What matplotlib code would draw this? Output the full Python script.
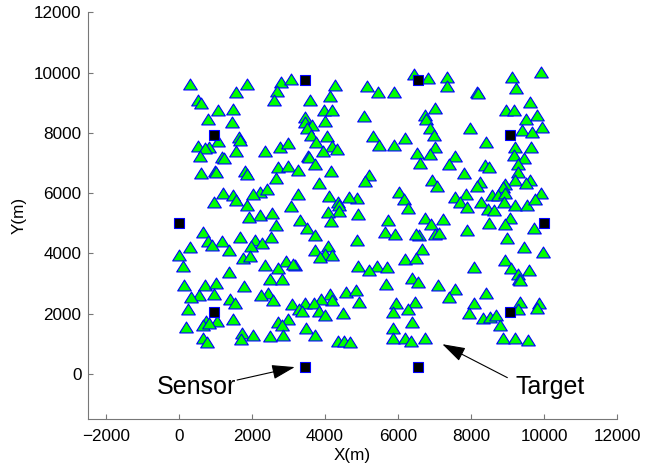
import matplotlib
matplotlib.use('Agg')
from matplotlib import pyplot as plt
from matplotlib.path import Path

# target positions (m)
target_x = [9900, 6430, 6810, 7350, 7350, 9110, 9240, 310, 1870, 2790,
            3070, 2690, 4270, 5150, 5440, 5900, 1550, 8150, 8180, 510,
            600, 2600, 3580, 4130, 9610, 1060, 1470, 3960, 4180, 7000,
            8960, 9160, 5060, 3440, 6740, 6760, 9510, 9810, 790, 1440,
            3460, 3650, 3510, 3990, 6880, 7980, 9940, 9400, 9660, 6990,
            3620, 4040, 1630, 1660, 5310, 1070, 6200, 8400, 3750, 5470,
            5900, 510, 820, 720, 2360, 2760, 2980, 4200, 4330, 9190,
            9640, 7020, 1550, 3940, 6530, 6870, 570, 1180, 1240, 9160,
            3540, 3570, 7550, 9450, 3720, 6600, 7380, 2700, 2980, 3270,
            8390, 8480, 9280, 1820, 1850, 980, 1000, 610, 4170, 7800,
            9280, 5190, 5080, 9210, 6940, 7060, 2650, 3820, 9620, 9510,
            8250, 8150, 8920, 8870, 2210, 2420, 1200, 1480, 2020, 3260,
            6010, 9900, 7560, 7870, 8580, 8730, 8920, 4100, 4880, 4650,
            6170, 7690, 7880, 8260, 8890, 960, 1570, 1870, 4360, 4380,
            4390, 9210, 9530, 9740, 3070, 4070, 6270, 8450, 8630, 2210,
            2550, 4890, 1910, 4150, 9070, 6730, 7220, 5730, 6910, 3300,
            2650, 8480, 8930, 9720, 670, 3510, 5640, 5920, 7880, 2520,
            1660, 2090, 3720, 790, 1180, 6570, 7000, 7130, 6480, 4870,
            8990, 2280, 1980, 310, 4080, 900, 6650, 9440, 1370, 3720,
            4010, 4190, 3870, 9960, -10, 1750, 1930, 6190, 6490, 2920,
            3170, 3110, 110, 2360, 2700, 4900, 5420, 5690, 5210, 8090,
            8930, 9100, 9570, 1360, 9290, 9300, 9330, 2480, 2820, 6390,
            6550, 130, 1780, 5670, 7080, 7570, 720, 1000, 960, 560,
            330, 2440, 2240, 4130, 4560, 4850, 8400, 7390, 1400, 1520,
            2560, 4190, 4920, 3900, 6460, 5950, 8070, 9340, 9870, 9800,
            3090, 3460, 3290, 3380, 3700, 3830, 4010, 4480, 5870, 6260,
            9290, 240, 7950, 8330, 8520, 8670, 2980, 1470, 1050, 750,
            6390, 2710, 2820, 8780, 200, 660, 830, 5870, 3480, 1720,
            1710, 2020, 2480, 2850, 3730, 8880, 5870, 6730, 6200, 6350,
            660, 760, 4350, 4510, 4670, 9190, 9560]
target_y = [10030, 9940, 9810, 9860, 9560, 9860, 9470, 9610, 9610, 9690,
            9780, 9390, 9580, 9560, 9360, 9370, 9360, 9370, 9310, 9080,
            9000, 9080, 9080, 9230, 9030, 8760, 8790, 8750, 8760, 8810,
            8760, 8760, 8570, 8510, 8590, 8460, 8460, 8600, 8460, 8350,
            8350, 8270, 8150, 8380, 8150, 8160, 8180, 8090, 8020, 7940,
            7920, 7880, 7850, 7760, 7900, 7740, 7820, 7680, 7680, 7610,
            7610, 7550, 7520, 7490, 7390, 7520, 7650, 7550, 7460, 7520,
            7520, 7520, 7390, 7390, 7320, 7300, 7240, 7190, 7170, 7280,
            7240, 7190, 7240, 7170, 6970, 7000, 6970, 6860, 6910, 6770,
            6930, 6860, 6950, 6750, 6640, 6750, 6700, 6670, 6750, 6670,
            6710, 6600, 6390, 6450, 6440, 6230, 6490, 6330, 6440, 6340,
            6360, 6250, 6310, 6200, 6050, 6140, 6000, 5950, 5980, 5980,
            6030, 6000, 5870, 5980, 5940, 5940, 6000, 5910, 5830, 5870,
            5790, 5700, 5530, 5700, 5720, 5700, 5760, 5620, 5700, 5590,
            5420, 5620, 5620, 5790, 5570, 5390, 5500, 5480, 5450, 5290,
            5350, 5310, 5200, 5090, 5180, 5180, 5150, 5120, 4980, 5120,
            4940, 5020, 4960, 4840, 4710, 4840, 4710, 4650, 4790, 4540,
            4540, 4450, 4600, 4410, 4410, 4600, 4650, 4680, 4650, 4430,
            4520, 4340, 4240, 4210, 4240, 4270, 4160, 4210, 4100, 4120,
            3990, 3940, 3880, 4050, 3940, 3850, 3900, 3830, 3850, 3740,
            3610, 3660, 3580, 3610, 3520, 3570, 3570, 3550, 3460, 3550,
            3790, 3500, 3460, 3380, 3330, 3160, 3110, 3160, 3160, 3190,
            3050, 2940, 2920, 2970, 2940, 2830, 2940, 3030, 2670, 2630,
            2560, 2700, 2610, 2670, 2720, 2780, 2700, 2540, 2480, 2340,
            2450, 2450, 2390, 2500, 2390, 2370, 2340, 2390, 2340, 2190,
            2320, 2340, 2170, 2100, 2340, 2100, 1970, 2010, 2060, 2170,
            2140, 2140, 2010, 1860, 1900, 1950, 1820, 1810, 1760, 1760,
            1740, 1730, 1620, 1620, 1570, 1620, 1680, 1540, 1530, 1370,
            1150, 1290, 1270, 1290, 1310, 1200, 1180, 1200, 1180, 1100,
            1210, 1070, 1100, 1100, 1070, 1180, 1120]

# sensor positions (m)
sensor_x = [10000, 9050, 6550, 3450, 950, 0, 950, 3450, 6550, 9050]
sensor_y = [5000, 7940, 9760, 9760, 7940, 5000, 2060, 240, 240, 2060]

plt.rcParams['font.family'] = ['Liberation Sans', 'DejaVu Sans']

fig = plt.figure(figsize=(6.45, 4.70), dpi=100)
ax = fig.add_axes([0.136, 0.108, 0.821, 0.866])

# flatter triangle, like the MATLAB marker
tri = Path([(-1, -0.8), (1, -0.8), (0, 0.8), (-1, -0.8)],
           [Path.MOVETO, Path.LINETO, Path.LINETO, Path.CLOSEPOLY])

ax.plot(target_x, target_y, linestyle='none', marker=tri, markersize=9.8,
        markerfacecolor=(0, 1, 0), markeredgecolor=(0, 0, 1), markeredgewidth=0.8)
ax.plot(sensor_x, sensor_y, linestyle='none', marker='s', markersize=6.5,
        markerfacecolor='k', markeredgecolor=(0, 0, 1), markeredgewidth=0.8)

arrow = dict(arrowstyle='-|>,head_length=0.95,head_width=0.3', color='k',
             lw=0.8, mutation_scale=15, shrinkA=0, shrinkB=0)
ax.annotate('', xy=(3170, 230), xytext=(1590, -200), arrowprops=arrow)
ax.annotate('', xy=(7210, 990), xytext=(8990, -120), arrowprops=arrow)
ax.text(490, -420, 'Sensor', fontsize=18, ha='center', va='center')
ax.text(10170, -420, 'Target', fontsize=18, ha='center', va='center')

ax.set_xlim(-2500, 12000)
ax.set_ylim(-1500, 12000)
ax.set_xticks(range(-2000, 12001, 2000))
ax.set_yticks(range(0, 12001, 2000))
ax.set_xlabel('X(m)', fontsize=12.3, labelpad=3)
ax.set_ylabel('Y(m)', fontsize=12.3, labelpad=5)

for side in ['top', 'right']:
    ax.spines[side].set_visible(False)
for side in ['left', 'bottom']:
    ax.spines[side].set_color('#777777')
ax.tick_params(axis='both', direction='in', length=3.5, color='#777777',
               labelsize=12.3)
ax.tick_params(axis='x', pad=7)
ax.tick_params(axis='y', pad=4.5)

fig.savefig('out.png', dpi=100)
